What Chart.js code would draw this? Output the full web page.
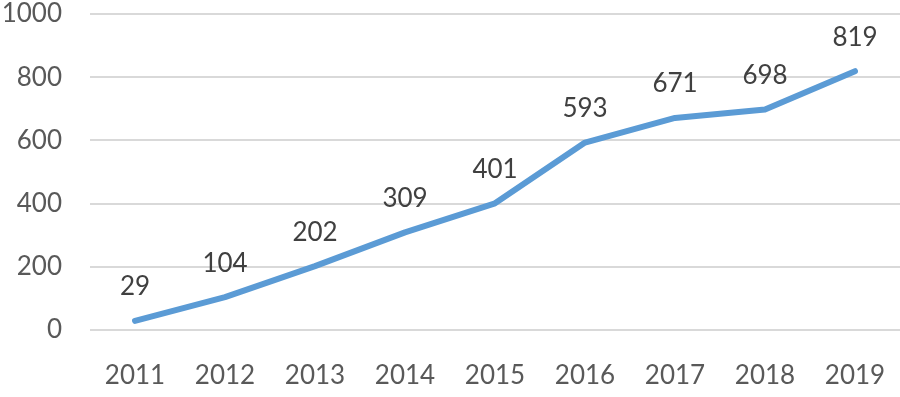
<!DOCTYPE html>
<html>
<head>
<meta charset="utf-8">
<script src="https://cdn.jsdelivr.net/npm/chart.js@4/dist/chart.umd.min.js"></script>
<style>
  html, body { margin: 0; padding: 0; background: #fff; }
  #wrap { width: 900px; height: 397px; }
</style>
</head>
<body>
<div id="wrap"><canvas id="line-chart"></canvas></div>
<script>
var years = ["2011", "2012", "2013", "2014", "2015", "2016", "2017", "2018", "2019"];
var totals = [29, 104, 202, 309, 401, 593, 671, 698, 819];
var yTicks = [0, 200, 400, 600, 800, 1000];

var fontFamily = "Lato, 'Open Sans', sans-serif";

// simple value labels above each point
var valueLabels = {
    id: "valueLabels",
    afterDatasetsDraw: function (chart) {
        var ctx = chart.ctx;
        var meta = chart.getDatasetMeta(0);
        ctx.save();
        ctx.font = "26px " + fontFamily;
        ctx.fillStyle = "#404040";
        ctx.textAlign = "center";
        ctx.textBaseline = "middle";
        meta.data.forEach(function (pt, i) {
            ctx.fillText(String(totals[i]), pt.x, pt.y - 34);
        });
        ctx.restore();
    }
};

var lineChart = new Chart(document.getElementById("line-chart"), {
    type: "line",
    data: {
        labels: years,
        datasets: [
            {
                data: totals,
                borderColor: "#5b9bd5",
                borderWidth: 6,
                borderCapStyle: "round",
                borderJoinStyle: "round",
                pointRadius: 0,
                tension: 0,
                fill: false
            }
        ]
    },
    options: {
        responsive: true,
        maintainAspectRatio: false,
        animation: false,
        layout: { padding: { top: 14, right: 0, left: 0, bottom: 0 } },
        plugins: {
            legend: { display: false },
            tooltip: { enabled: false }
        },
        scales: {
            x: {
                offset: true,
                grid: { display: false, drawTicks: false },
                border: { display: false },
                ticks: {
                    color: "#595959",
                    font: { family: fontFamily, size: 26 },
                    padding: 30,
                    maxRotation: 0
                },
                afterFit: function (scale) {
                    scale.height = 67;
                    scale.paddingLeft = 0;
                    scale.paddingRight = 0;
                }
            },
            y: {
                min: 0,
                max: 1000,
                afterBuildTicks: function (scale) {
                    scale.ticks = yTicks.map(function (v) { return { value: v }; });
                },
                grid: { color: "#d9d9d9", lineWidth: 2, drawTicks: false },
                border: { display: false },
                ticks: {
                    color: "#595959",
                    font: { family: fontFamily, size: 26 },
                    padding: 28,
                    callback: function (value) { return String(value); }
                },
                afterFit: function (scale) {
                    scale.width = 90;
                    scale.paddingTop = 0;
                    scale.paddingBottom = 0;
                }
            }
        }
    },
    plugins: [valueLabels]
});
</script>
</body>
</html>
